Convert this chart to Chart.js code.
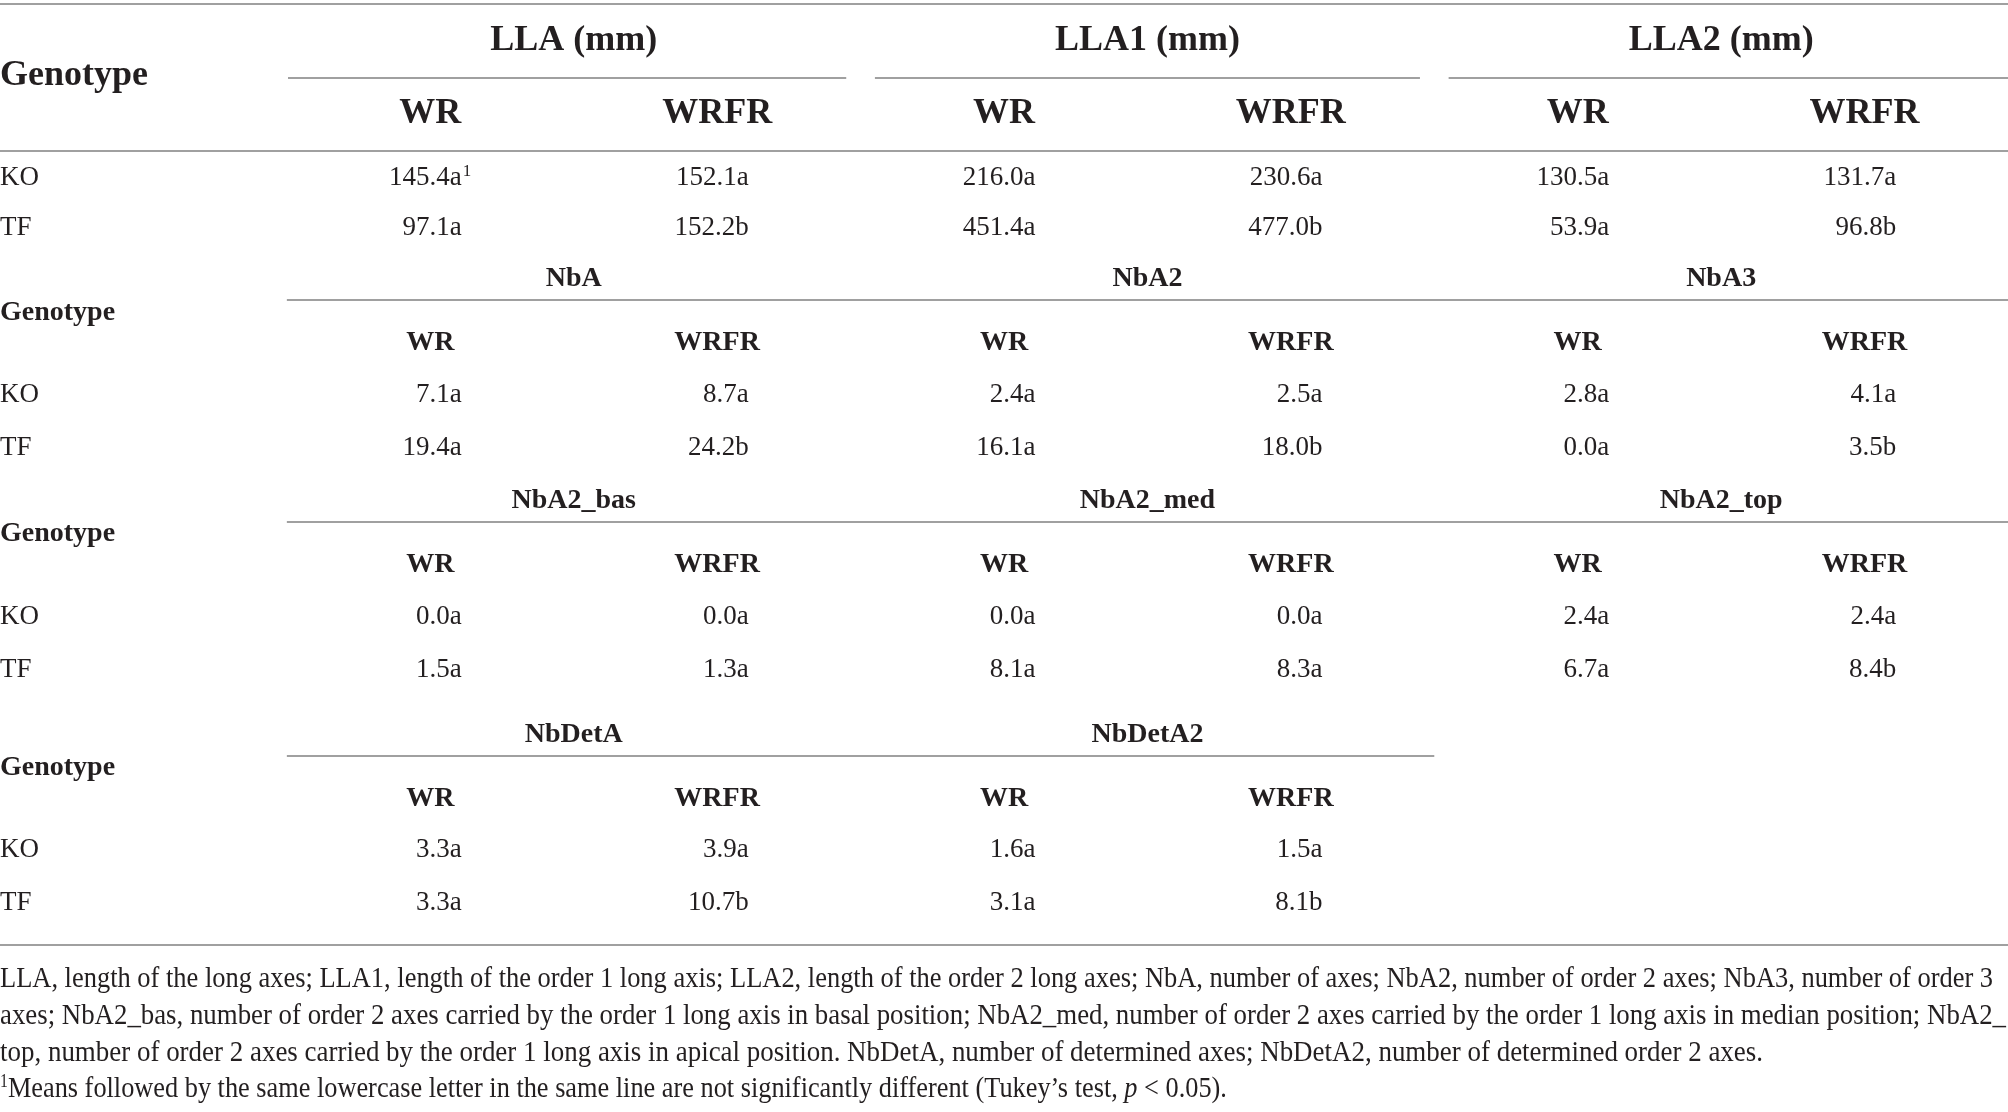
<!DOCTYPE html>
<html lang="en">
<head>
<meta charset="UTF-8">
<title>Root architecture traits by genotype and light treatment</title>
<script src="https://cdn.jsdelivr.net/npm/chart.js"></script>
<style>
  body { margin: 0; background: #fff; }
  #wrap { width: 2008px; height: 1112px; }
</style>
</head>
<body>
<div id="wrap"><canvas id="tableChart"></canvas></div>
<script>
// table content
const variables = ['LLA (mm)', 'LLA1 (mm)', 'LLA2 (mm)', 'NbA', 'NbA2', 'NbA3',
  'NbA2_bas', 'NbA2_med', 'NbA2_top', 'NbDetA', 'NbDetA2'];
const genotypes = ['KO', 'TF'];
const treatments = ['WR', 'WRFR'];
const rowHeader = 'Genotype';

const koWR   = [145.4, 216.0, 130.5, 7.1, 2.4, 2.8, 0.0, 0.0, 2.4, 3.3, 1.6];
const koWRFR = [152.1, 230.6, 131.7, 8.7, 2.5, 4.1, 0.0, 0.0, 2.4, 3.9, 1.5];
const tfWR   = [97.1, 451.4, 53.9, 19.4, 16.1, 0.0, 1.5, 8.1, 6.7, 3.3, 3.1];
const tfWRFR = [152.2, 477.0, 96.8, 24.2, 18.0, 3.5, 1.3, 8.3, 8.4, 10.7, 8.1];

const koWRLetters   = ['a', 'a', 'a', 'a', 'a', 'a', 'a', 'a', 'a', 'a', 'a'];
const koWRFRLetters = ['a', 'a', 'a', 'a', 'a', 'a', 'a', 'a', 'a', 'a', 'a'];
const tfWRLetters   = ['a', 'a', 'a', 'a', 'a', 'a', 'a', 'a', 'a', 'a', 'a'];
const tfWRFRLetters = ['b', 'b', 'b', 'b', 'b', 'b', 'a', 'a', 'b', 'b', 'b'];

// first cell carries the footnote mark
const koWRMarks = ['1'];

const footnotes = [
  'LLA, length of the long axes; LLA1, length of the order 1 long axis; LLA2, length of the order 2 long axes; NbA, number of axes; NbA2, number of order 2 axes; NbA3, number of order 3',
  'axes; NbA2_bas, number of order 2 axes carried by the order 1 long axis in basal position; NbA2_med, number of order 2 axes carried by the order 1 long axis in median position; NbA2_',
  'top, number of order 2 axes carried by the order 1 long axis in apical position. NbDetA, number of determined axes; NbDetA2, number of determined order 2 axes.',
  'Means followed by the same lowercase letter in the same line are not significantly different (Tukey\u2019s test, '
];

// layout (x in column units, y in line units)
const INK = '#231f20';
const RULE = '#a0a0a0';
const SERIF = '"Liberation Serif", "Times New Roman", serif';
const perBlock = 3;
const valueAnchor = 0.61;
const first = { topRule: 0.08, header: 0.96, groupRule: 1.50, genotype: 1.64, treat: 2.37, fullRule: 2.91, rows: [3.56, 4.53] };
const laterBase = [7.73, 12.00, 16.50];
const later = { header: -2.23, rule: -1.96, genotype: -1.58, treat: -0.99, step: 1.02 };
const bottomRule = 18.19;
const noteLines = [18.99, 19.70, 20.41, 21.12];
const noteEnds = [5.948, 5.993, 5.146, 3.277];

function rowY(v, g) {
  const b = Math.floor(v / perBlock);
  return b === 0 ? first.rows[g] : laterBase[b - 1] + g * later.step;
}

const series = [
  { vals: koWR, letters: koWRLetters, g: 0, t: 0, marks: koWRMarks },
  { vals: koWRFR, letters: koWRFRLetters, g: 0, t: 1, marks: [] },
  { vals: tfWR, letters: tfWRLetters, g: 1, t: 0, marks: [] },
  { vals: tfWRFR, letters: tfWRFRLetters, g: 1, t: 1, marks: [] }
];

const datasets = series.map(s => ({
  label: genotypes[s.g] + ' ' + treatments[s.t],
  data: s.vals.map((val, v) => ({ x: (v % perBlock) * 2 + s.t + valueAnchor, y: rowY(v, s.g) })),
  texts: s.vals.map((val, v) => val.toFixed(1) + s.letters[v]),
  marks: s.marks,
  pointRadius: 0,
  pointHoverRadius: 0,
  showLine: false
}));

const tablePlugin = {
  id: 'tableText',
  afterDatasetsDraw(chart) {
    const ctx = chart.ctx;
    const xs = chart.scales.x, ys = chart.scales.y;
    const px = v => xs.getPixelForValue(v);
    const py = v => ys.getPixelForValue(v);

    ctx.save();
    ctx.fillStyle = INK;
    ctx.strokeStyle = RULE;
    ctx.lineWidth = 2;
    ctx.textBaseline = 'alphabetic';

    function hline(x0, x1, y) {
      ctx.beginPath();
      ctx.moveTo(px(x0), Math.round(py(y)));
      ctx.lineTo(px(x1), Math.round(py(y)));
      ctx.stroke();
    }
    function text(str, x, y, font, align) {
      ctx.font = font;
      ctx.textAlign = align;
      ctx.fillText(str, px(x), py(y));
    }

    const bigBold = 'bold 36px ' + SERIF;
    const smallBold = 'bold 28px ' + SERIF;
    const body = '27px ' + SERIF;
    const sup = '17px ' + SERIF;

    // first block
    hline(-1, 6, first.topRule);
    text(rowHeader, -1, first.genotype, bigBold, 'left');
    for (let g = 0; g < perBlock; g++) {
      text(variables[g], g * 2 + 1, first.header, bigBold, 'center');
      hline(g * 2 + (g ? 0.05 : 0.004), g * 2 + 2 - (g < perBlock - 1 ? 0.05 : 0), first.groupRule);
    }
    for (let c = 0; c < perBlock * 2; c++) {
      text(treatments[c % 2], c + 0.5, first.treat, bigBold, 'center');
    }
    hline(-1, 6, first.fullRule);
    genotypes.forEach((gn, r) => text(gn, -1, first.rows[r], body, 'left'));

    // later blocks
    for (let b = 1; b * perBlock < variables.length; b++) {
      const base = laterBase[b - 1];
      const n = Math.min(perBlock, variables.length - b * perBlock);
      for (let g = 0; g < n; g++) {
        text(variables[b * perBlock + g], g * 2 + 1, base + later.header, smallBold, 'center');
      }
      hline(0, n * 2, base + later.rule);
      text(rowHeader, -1, base + later.genotype, smallBold, 'left');
      for (let c = 0; c < n * 2; c++) {
        text(treatments[c % 2], c + 0.5, base + later.treat, smallBold, 'center');
      }
      genotypes.forEach((gn, r) => text(gn, -1, base + r * later.step, body, 'left'));
    }
    hline(-1, 6, bottomRule);

    // cell values
    chart.data.datasets.forEach((ds, i) => {
      const meta = chart.getDatasetMeta(i);
      meta.data.forEach((pt, j) => {
        ctx.font = body;
        ctx.textAlign = 'right';
        ctx.fillText(ds.texts[j], pt.x, pt.y);
        if (ds.marks[j]) {
          ctx.font = sup;
          ctx.textAlign = 'left';
          ctx.fillText(ds.marks[j], pt.x + 1, pt.y - 9);
        }
      });
    });

    // footnotes, squeezed to the measured line lengths
    const noteFont = '30px ' + SERIF;
    const noteSup = '18px ' + SERIF;
    const noteItalic = 'italic 30px ' + SERIF;
    footnotes.forEach((line, k) => {
      let pieces = [{ t: line, f: noteFont, dy: 0 }];
      if (k === 3) {
        pieces = [{ t: koWRMarks[0], f: noteSup, dy: -10 }, { t: line, f: noteFont, dy: 0 },
          { t: 'p', f: noteItalic, dy: 0 }, { t: ' < 0.05).', f: noteFont, dy: 0 }];
      }
      let natural = 0;
      pieces.forEach(p => { ctx.font = p.f; p.w = ctx.measureText(p.t).width; natural += p.w; });
      const target = px(noteEnds[k]) - px(-1);
      ctx.save();
      ctx.translate(px(-1), py(noteLines[k]));
      ctx.scale(target / natural, 1);
      ctx.textAlign = 'left';
      let x = 0;
      pieces.forEach(p => { ctx.font = p.f; ctx.fillText(p.t, x, p.dy); x += p.w; });
      ctx.restore();
    });

    ctx.restore();
  }
};

new Chart(document.getElementById('tableChart'), {
  type: 'scatter',
  data: { datasets: datasets },
  options: {
    responsive: true,
    maintainAspectRatio: false,
    animation: false,
    events: [],
    layout: { padding: 0 },
    plugins: { legend: { display: false }, tooltip: { enabled: false } },
    scales: {
      x: { type: 'linear', min: -1, max: 6, display: false },
      y: { type: 'linear', min: 0, max: 21.4, reverse: true, display: false }
    }
  },
  plugins: [tablePlugin]
});
</script>
</body>
</html>
